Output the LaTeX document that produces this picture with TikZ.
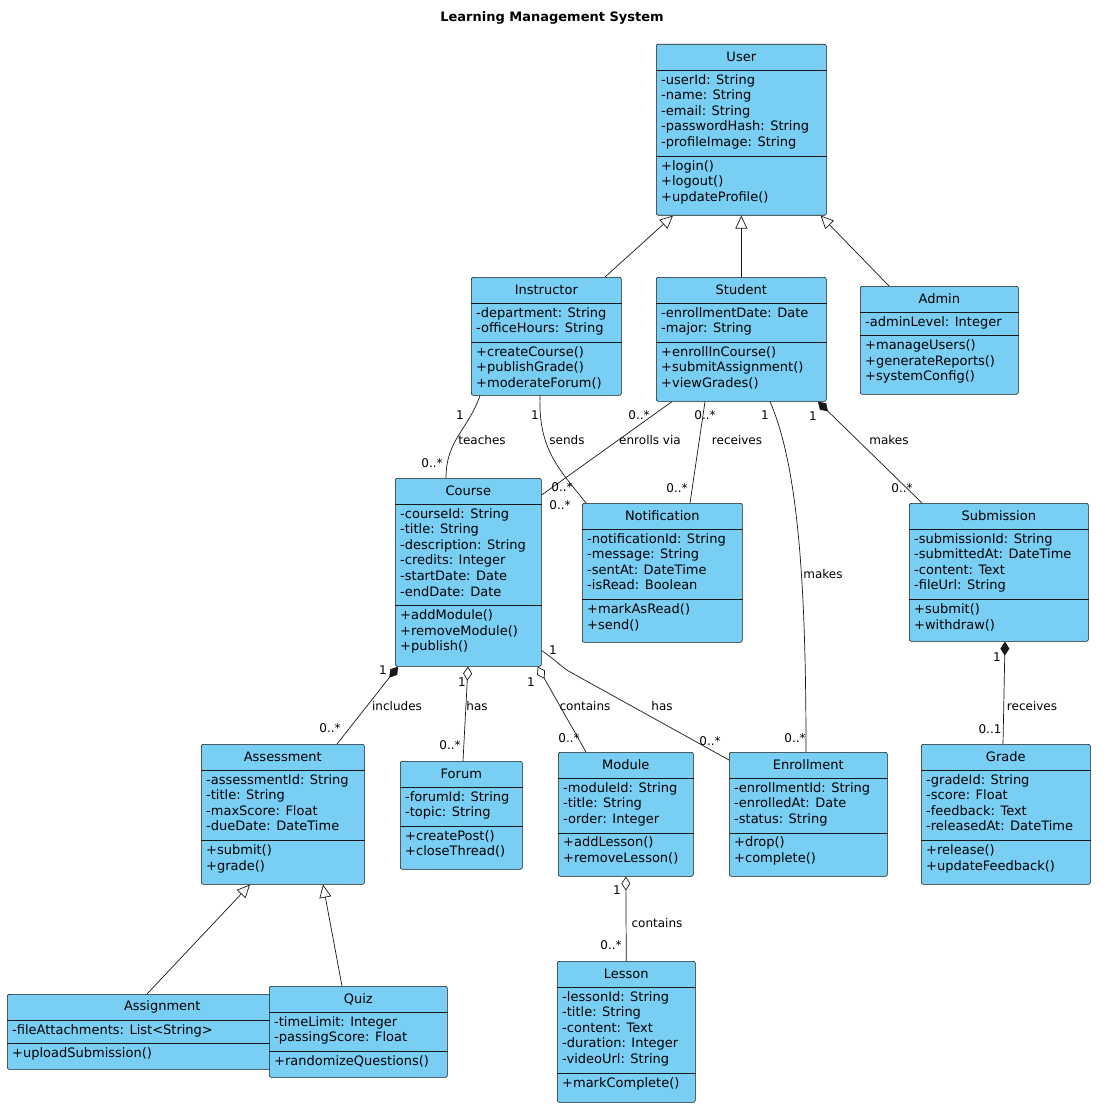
\documentclass[tikz,border=0pt]{standalone}
\usepackage{fontspec}
\setmainfont{DejaVu Sans}
\usetikzlibrary{calc,arrows.meta}
\definecolor{cfill}{RGB}{121,206,244}
\definecolor{cline}{RGB}{24,24,24}
\newcommand\cls[9]{%
\node[cbox, minimum width=#4pt, minimum height=#5pt, anchor=north west] (#1) at (#2,#3) {};
\node[ttl] at ($(#1.north)+(0,13)$) {#6};
\draw[cline,line width=0.5pt] ($(#1.north west)+(0,26)$) -- ($(#1.north east)+(0,26)$);
\node[txt] at ($(#1.north west)+(5,30)$) {#7};
\pgfmathsetmacro\sepy{26+8+#8*15.6}
\draw[cline,line width=0.5pt] ($(#1.north west)+(0,\sepy)$) -- ($(#1.north east)+(0,\sepy)$);
\node[txt] at ($(#1.north west)+(5,\sepy+4)$) {#9};
}
\tikzset{
 cbox/.style={draw=cline, fill=cfill, rounded corners=2pt, line width=0.6pt, inner sep=0pt},
 ttl/.style={font=\fontsize{13}{15.6}\selectfont, inner sep=0pt},
 txt/.style={font=\fontsize{13}{15.6}\selectfont, anchor=north west, align=left, inner sep=0pt},
 lab/.style={font=\fontsize{12}{14}\selectfont, inner sep=0pt},
 conn/.style={draw=cline, line width=0.7pt},
 gen/.style={conn, -{Triangle[open,length=13pt,width=12pt,fill=white]}},
 comp/.style={conn, {Diamond[length=14pt,width=9pt]}-},
 aggr/.style={conn, {Diamond[open,length=14pt,width=9pt,fill=white]}-},
}
\begin{document}
\begin{tikzpicture}[x=1pt,y=-1pt]
\useasboundingbox[fill=white] (0,0) rectangle (1105,1115);
\node[font=\fontsize{13}{15}\selectfont\bfseries] (title) at (552,18) {Learning Management System};

\cls{user}{656}{44}{170}{171}{User}{-userId: String\\-name: String\\-email: String\\-passwordHash: String\\-profileImage: String}{5}{+login()\\+logout()\\+updateProfile()}
\cls{instr}{471}{277}{150}{118}{Instructor}{-department: String\\-officeHours: String}{2}{+createCourse()\\+publishGrade()\\+moderateForum()}
\cls{student}{656}{277}{170}{124}{Student}{-enrollmentDate: Date\\-major: String}{2}{+enrollInCourse()\\+submitAssignment()\\+viewGrades()}
\cls{admin}{860}{286}{158}{108}{Admin}{-adminLevel: Integer}{1}{+manageUsers()\\+generateReports()\\+systemConfig()}
\cls{course}{395}{478}{146}{188}{Course}{-courseId: String\\-title: String\\-description: String\\-credits: Integer\\-startDate: Date\\-endDate: Date}{6}{+addModule()\\+removeModule()\\+publish()}
\cls{notif}{582}{503}{160}{139}{Notification}{-notificationId: String\\-message: String\\-sentAt: DateTime\\-isRead: Boolean}{4}{+markAsRead()\\+send()}
\cls{subm}{909}{503}{179}{138}{Submission}{-submissionId: String\\-submittedAt: DateTime\\-content: Text\\-fileUrl: String}{4}{+submit()\\+withdraw()}
\cls{assess}{201}{744}{163}{140}{Assessment}{-assessmentId: String\\-title: String\\-maxScore: Float\\-dueDate: DateTime}{4}{+submit()\\+grade()}
\cls{forum}{400}{761}{122}{108}{Forum}{-forumId: String\\-topic: String}{2}{+createPost()\\+closeThread()}
\cls{module}{558}{752}{135}{124}{Module}{-moduleId: String\\-title: String\\-order: Integer}{3}{+addLesson()\\+removeLesson()}
\cls{enroll}{729}{752}{158}{124}{Enrollment}{-enrollmentId: String\\-enrolledAt: Date\\-status: String}{3}{+drop()\\+complete()}
\cls{grade}{921}{744}{169}{140}{Grade}{-gradeId: String\\-score: Float\\-feedback: Text\\-releasedAt: DateTime}{4}{+release()\\+updateFeedback()}
\cls{assign}{7}{994}{310}{75}{Assignment}{-fileAttachments: List<String>}{1}{+uploadSubmission()}
\cls{quiz}{269}{986}{178}{91}{Quiz}{-timeLimit: Integer\\-passingScore: Float}{2}{+randomizeQuestions()}
\cls{lesson}{557}{961}{138}{141}{Lesson}{-lessonId: String\\-title: String\\-content: Text\\-duration: Integer\\-videoUrl: String}{5}{+markComplete()}

% generalizations
\draw[gen] ($(instr.north west)+(134,0)$) -- ($(user.south west)+(17,0)$);
\draw[gen] (student.north) -- (user.south);
\draw[gen] ($(admin.north west)+(29,0)$) -- ($(user.south east)+(-6,0)$);
\draw[gen] ($(assign.north west)+(140,0)$) -- ($(assess.south west)+(49,0)$);
\draw[gen] ($(quiz.north west)+(73,0)$) -- ($(assess.south west)+(122,0)$);

% associations
\draw[conn] ($(instr.south west)+(9,0)$) .. controls (468,430) and (446,440) .. ($(course.north west)+(51,0)$)
  node[lab] at (460,415) {1} node[lab] at (482,440) {teaches} node[lab] at (432,463) {0..*};
\draw[conn] ($(instr.south west)+(69,0)$) .. controls (538,450) and (560,470) .. ($(notif.north west)+(4,0)$)
  node[lab] at (535,415) {1} node[lab] at (567,440) {sends} node[lab] at (560,505) {0..*};
\draw[conn] ($(student.south west)+(16,0)$) -- ($(course.north east)+(0,17)$)
  node[lab] at (639,415) {0..*} node[lab] at (650,440) {enrolls via} node[lab] at (562,487) {0..*};
\draw[conn] ($(student.south west)+(49,0)$) -- ($(notif.north west)+(108,0)$)
  node[lab] at (705,415) {0..*} node[lab] at (737,440) {receives} node[lab] at (677,488) {0..*};
\draw[conn] ($(student.south west)+(114,0)$) .. controls (800,470) and (806,600) .. ($(enroll.north west)+(77,0)$)
  node[lab] at (765,415) {1} node[lab] at (823,574) {makes} node[lab] at (795,738) {0..*};
\draw[comp] ($(student.south west)+(162,0)$) -- ($(subm.north west)+(13,0)$)
  node[lab] at (813,416) {1} node[lab] at (889,440) {makes} node[lab] at (902,488) {0..*};
\draw[comp] ($(course.south west)+(3,0)$) -- ($(assess.north west)+(136,0)$)
  node[lab] at (383,670) {1} node[lab] at (397,706) {includes} node[lab] at (330,728) {0..*};
\draw[aggr] ($(course.south west)+(73,0)$) -- ($(forum.north west)+(63,0)$)
  node[lab] at (462,682) {1} node[lab] at (477,706) {has} node[lab] at (450,745) {0..*};
\draw[aggr] ($(course.south east)+(-4,0)$) -- ($(module.north west)+(28,0)$)
  node[lab] at (531,682) {1} node[lab] at (585,706) {contains} node[lab] at (569,738) {0..*};
\draw[conn] ($(course.south east)+(0,-16)$) .. controls (556,660) and (562,668) .. (572,673) -- ($(enroll.north west)+(0,8)$)
  node[lab] at (553,650) {1} node[lab] at (662,706) {has} node[lab] at (710,741) {0..*};
\draw[comp] ($(subm.south west)+(96,0)$) -- ($(grade.north west)+(82,0)$)
  node[lab] at (997,657) {1} node[lab] at (1032,706) {receives} node[lab] at (990,729) {0..1};
\draw[aggr] (module.south) -- (lesson.north)
  node[lab] at (617,890) {1} node[lab] at (657,923) {contains} node[lab] at (611,945) {0..*};
\end{tikzpicture}
\end{document}
